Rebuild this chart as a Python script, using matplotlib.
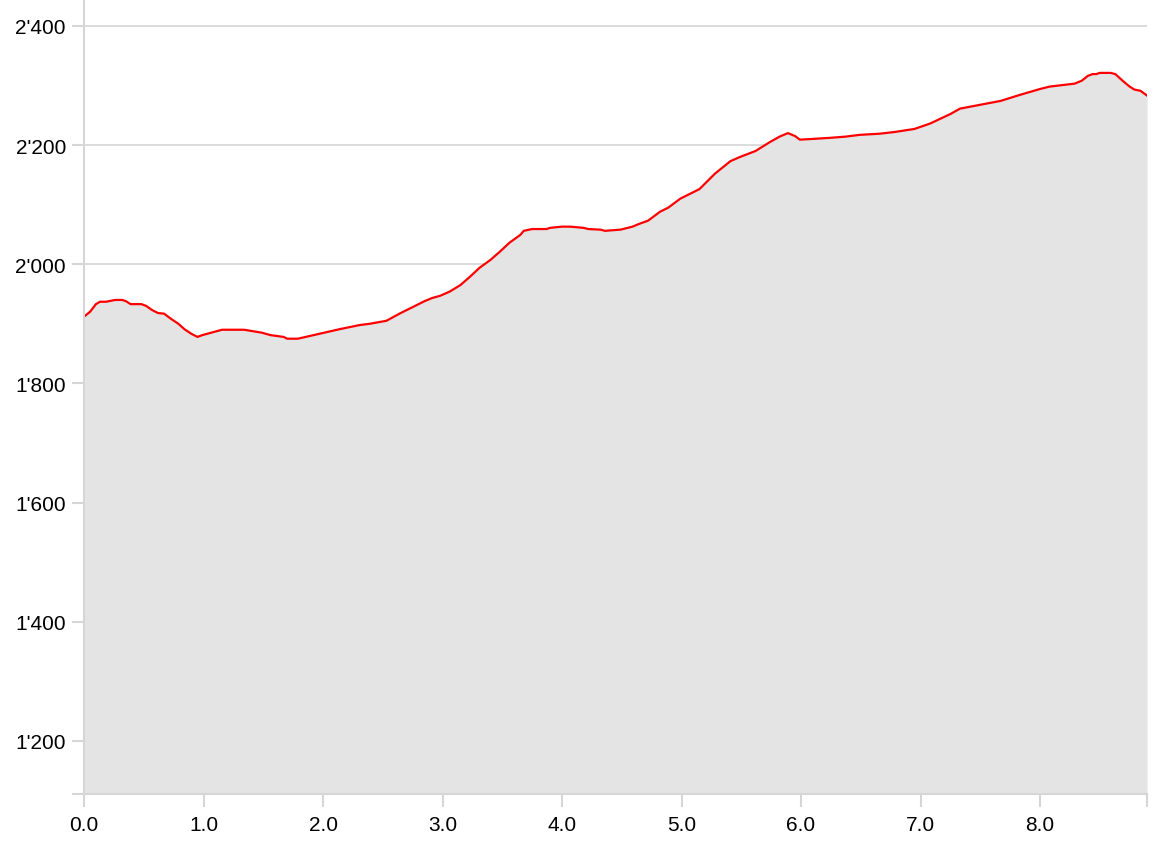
import matplotlib
matplotlib.use("Agg")
import matplotlib.pyplot as plt
from matplotlib.ticker import FuncFormatter

# distance (km) and elevation (m)
distance = [0.0, 0.05, 0.10, 0.134, 0.184, 0.26, 0.32, 0.35, 0.39, 0.48, 0.52, 0.57,
            0.62, 0.67, 0.73, 0.79, 0.84, 0.90, 0.95, 0.99, 1.155, 1.34, 1.49, 1.56,
            1.67, 1.70, 1.79, 2.14, 2.31, 2.39, 2.53, 2.64, 2.85, 2.91, 2.98, 3.06,
            3.15, 3.23, 3.31, 3.40, 3.48, 3.56, 3.65, 3.68, 3.75, 3.87, 3.90, 4.00,
            4.07, 4.18, 4.22, 4.32, 4.36, 4.49, 4.59, 4.65, 4.72, 4.82, 4.89, 4.99,
            5.07, 5.15, 5.28, 5.41, 5.49, 5.62, 5.74, 5.82, 5.89, 5.95, 5.99, 6.08,
            6.24, 6.37, 6.49, 6.66, 6.79, 6.95, 7.08, 7.25, 7.33, 7.46, 7.67, 7.83,
            8.00, 8.08, 8.29, 8.35, 8.40, 8.44, 8.47, 8.50, 8.59, 8.63, 8.69, 8.75,
            8.79, 8.84, 8.895]
elevation = [1912, 1920, 1933, 1937, 1937, 1940, 1940, 1938, 1933, 1933, 1930, 1923,
             1918, 1917, 1908, 1900, 1891, 1883, 1878, 1881, 1890, 1890, 1885, 1881,
             1878, 1875, 1875, 1891, 1898, 1900, 1905, 1917, 1938, 1943, 1947, 1954,
             1965, 1979, 1994, 2007, 2021, 2036, 2049, 2056, 2059, 2059, 2061, 2063,
             2063, 2061, 2059, 2058, 2056, 2058, 2063, 2068, 2073, 2088, 2095, 2110,
             2118, 2126, 2152, 2173, 2180, 2190, 2205, 2214, 2220, 2215, 2209, 2210,
             2212, 2214, 2217, 2219, 2222, 2227, 2236, 2252, 2261, 2266, 2274, 2284,
             2294, 2298, 2303, 2308, 2316, 2319, 2319, 2321, 2321, 2319, 2308, 2298,
             2293, 2291, 2283]

y_ticks = [1200, 1400, 1600, 1800, 2000, 2200, 2400]
x_ticks = [0, 1, 2, 3, 4, 5, 6, 7, 8]

y_min, y_max = 1111, 2445
x_max = distance[-1]

grey = "#d6d6d6"

fig = plt.figure(figsize=(11.76, 8.53), dpi=100)
ax = fig.add_axes([84 / 1176, 1 - 795 / 853, (1147 - 84) / 1176, 795 / 853])

ax.fill_between(distance, elevation, y_min, color="#e4e4e4", lw=0)
ax.plot(distance, elevation, color="#ff0000", lw=1.6, solid_joinstyle="round")

for y in y_ticks:
    ax.axhline(y, color=grey, lw=1.2, zorder=0)

ax.set_xlim(0, x_max)
ax.set_ylim(y_min, y_max)

ax.set_xticks(x_ticks + [x_max])
ax.set_xticklabels([f"{x:.1f}" for x in x_ticks] + [""])
ax.set_yticks([y_min] + y_ticks)
fmt = FuncFormatter(lambda v, p: "" if v == y_min else f"{int(v):,}".replace(",", "'"))
ax.yaxis.set_major_formatter(fmt)

for side in ["top", "right"]:
    ax.spines[side].set_visible(False)
for side in ["left", "bottom"]:
    ax.spines[side].set_color(grey)
    ax.spines[side].set_linewidth(1.5)

ax.tick_params(axis="both", colors=grey, width=1.5, labelcolor="black",
               labelsize=15, length=9)
ax.tick_params(axis="x", pad=6)
ax.tick_params(axis="y", pad=4)
for lab in ax.get_xticklabels() + ax.get_yticklabels():
    lab.set_fontfamily("Liberation Sans")

fig.savefig("out.png", dpi=100)
